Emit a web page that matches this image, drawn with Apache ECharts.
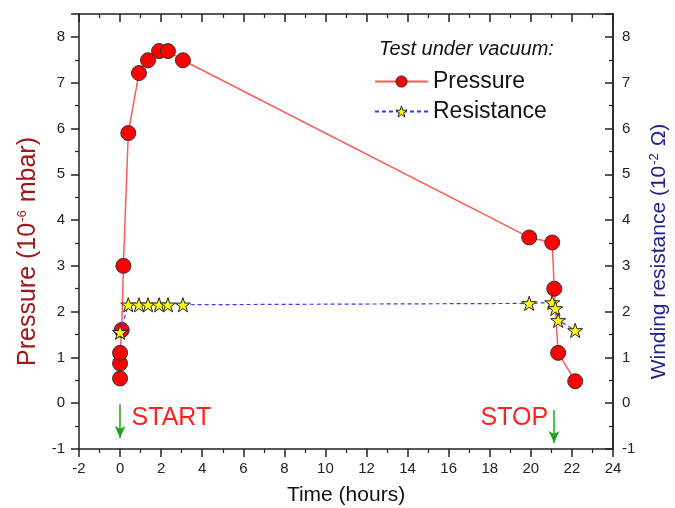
<!DOCTYPE html>
<html>
<head>
<meta charset="utf-8">
<title>Test under vacuum</title>
<script src="https://cdn.jsdelivr.net/npm/echarts@6/dist/echarts.min.js"></script>
<style>
	html, body { margin: 0; padding: 0; background: #fff; }
	#chart { width: 675px; height: 508px; }
</style>
</head>
<body>
<div id="chart"></div>
<script>
	// time in hours, pressure in 1e-6 mbar
	var pressureTime = [0, 0, 0, 0.08, 0.16, 0.4, 0.92, 1.36, 1.9, 2.33, 3.06, 19.92, 21.04, 21.14, 21.33, 22.16];
	var pressure = [0.54, 0.87, 1.1, 1.6, 3.0, 5.9, 7.21, 7.49, 7.69, 7.69, 7.49, 3.62, 3.51, 2.5, 1.1, 0.48];

	// winding resistance in 1e-2 ohm
	var resistanceTime = [0, 0.4, 0.92, 1.36, 1.9, 2.33, 3.06, 19.92, 21.04, 21.19, 21.33, 22.16];
	var resistance = [1.55, 2.15, 2.15, 2.15, 2.15, 2.15, 2.15, 2.18, 2.2, 2.07, 1.81, 1.59];

	var xTicks = [-2, 24, 2];   // min, max, step
	var yTicks = [-1, 8.5, 1];

	// START / STOP markers: arrow x, arrow top, arrow bottom
	var arrows = [[0, -0.02, -0.76], [21.13, -0.15, -0.87]];
	var notes = [['START', 2.5, -0.33], ['STOP', 19.2, -0.33]];

	var starPath = 'path://M50 0 L61.23 34.55 L97.55 34.55 L68.16 55.9 L79.39 90.45 L50 69.1 L20.61 90.45 L31.84 55.9 L2.45 34.55 L38.77 34.55 Z';
	var font = '"Liberation Sans", Arial, sans-serif';
	var axisColor = '#222';
	var plotW = 534, plotH = 435;

	var pressureStyle = {color: '#ff0000', borderColor: '#333', borderWidth: 1};
	var resistanceStyle = {color: '#ffff00', borderColor: '#222', borderWidth: 1};

	function pairs(xs, ys){
		return xs.map(function(x, i){ return [x, ys[i]]; });
	}

	function lineStyle(){
		return {color: axisColor, width: 1.5};
	}

	// bottom axis, or a tick-only mirror pushed up to the top edge
	function xAxis(mirror){
		return {
			type: 'value',
			position: 'bottom',
			offset: mirror ? -plotH : 0,
			min: xTicks[0], max: xTicks[1], interval: xTicks[2],
			name: mirror ? '' : 'Time (hours)',
			nameLocation: 'middle',
			nameGap: 36,
			nameTextStyle: {color: '#111', fontSize: 21, fontFamily: font},
			axisLine: {show: true, onZero: false, lineStyle: lineStyle()},
			axisTick: {show: true, length: 8, lineStyle: lineStyle()},
			minorTick: {show: true, splitNumber: 2, length: 4, lineStyle: {color: axisColor, width: 1.2}},
			axisLabel: {show: !mirror, margin: 12, color: '#222', fontSize: 15, fontFamily: font},
			splitLine: {show: false}
		};
	}

	function yAxis(opts){
		return {
			type: 'value',
			position: opts.position,
			offset: opts.offset || 0,
			min: yTicks[0], max: yTicks[1], interval: yTicks[2],
			name: opts.name || '',
			nameLocation: 'middle',
			nameRotate: 90,
			nameGap: opts.nameGap || 0,
			nameTextStyle: {
				padding: [0, 40, 0, 0],
				rich: {
					a: {color: opts.color, fontSize: opts.fontSize, fontFamily: font},
					s: {color: opts.color, fontSize: 13, fontFamily: font, verticalAlign: 'top', padding: [0, 1, 10, 1]}
				}
			},
			axisLine: {show: true, onZero: false, lineStyle: lineStyle()},
			axisTick: {show: opts.ticks, length: 8, lineStyle: lineStyle()},
			minorTick: {show: opts.ticks, splitNumber: 2, length: 4, lineStyle: {color: axisColor, width: 1.2}},
			axisLabel: {show: opts.labels, margin: opts.margin, showMaxLabel: false, color: '#222', fontSize: 15, fontFamily: font},
			splitLine: {show: false}
		};
	}

	var chart = echarts.init(document.getElementById('chart'), null, {renderer: 'canvas'});

	var option = {
		animation: false,
		backgroundColor: '#fff',
		title: {
			text: 'Test under vacuum:',
			left: 374, top: 34,
			textStyle: {fontStyle: 'italic', fontWeight: 'normal', fontSize: 20, color: '#111', fontFamily: font}
		},
		legend: {
			orient: 'vertical',
			left: 369, top: 65,
			itemWidth: 53, itemHeight: 14, itemGap: 7,
			selectedMode: false,
			textStyle: {fontSize: 23, color: '#111', fontFamily: font},
			data: [
				{name: 'Pressure', itemStyle: pressureStyle},
				{name: 'Resistance', itemStyle: resistanceStyle}
			]
		},
		grid: {left: 79, right: 62, top: 14, bottom: 59, containLabel: false, outerBoundsMode: 'none'},
		xAxis: [xAxis(false), xAxis(true)],
		yAxis: [
			yAxis({position: 'left', name: '{a|Pressure (10}{s|-6}{a| mbar)}', color: '#a01818', fontSize: 25,
				nameGap: 38, ticks: true, labels: true, margin: 14}),
			yAxis({position: 'right', name: '{a|Winding resistance (10}{s|-2}{a| \u03A9)}', color: '#22228c', fontSize: 21,
				nameGap: 35, ticks: false, labels: true, margin: 9}),
			// tick-only mirror on the right edge, ticks pointing into the plot
			yAxis({position: 'left', offset: -plotW, ticks: true, labels: false})
		],
		series: [{
			name: 'Pressure',
			type: 'line',
			xAxisIndex: 0, yAxisIndex: 0,
			data: pairs(pressureTime, pressure),
			symbol: 'circle',
			symbolSize: 15,
			lineStyle: {color: '#ff5a5a', width: 1.5},
			itemStyle: pressureStyle,
			z: 3,
			markLine: {
				silent: true,
				symbol: ['none', 'arrow'],
				symbolSize: [8, 12],
				label: {show: false},
				lineStyle: {color: '#22a022', width: 1.5, type: 'solid'},
				data: arrows.map(function(a){
					return [{coord: [a[0], a[1]]}, {coord: [a[0], a[2]]}];
				})
			},
			markPoint: {
				silent: true,
				symbol: 'circle',
				symbolSize: 1,
				itemStyle: {color: 'rgba(0,0,0,0)'},
				label: {show: true, position: 'inside', formatter: '{b}', color: '#ff2020', fontSize: 25, fontFamily: font},
				data: notes.map(function(n){
					return {name: n[0], coord: [n[1], n[2]]};
				})
			}
		}, {
			name: 'Resistance',
			type: 'line',
			xAxisIndex: 0, yAxisIndex: 1,
			data: pairs(resistanceTime, resistance),
			symbol: starPath,
			symbolKeepAspect: true,
			symbolSize: 15,
			lineStyle: {color: '#3a3aff', width: 1.2, type: [4, 3]},
			itemStyle: resistanceStyle,
			z: 4
		}]
	};

	chart.setOption(option);
</script>
</body>
</html>
